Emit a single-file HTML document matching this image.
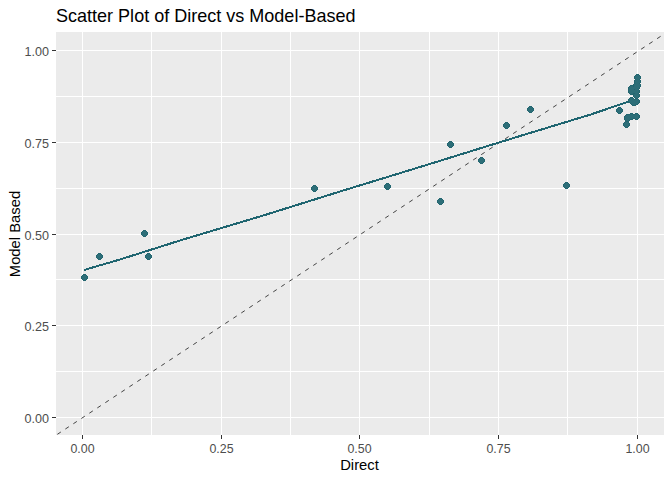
<!DOCTYPE html><html><head><meta charset="utf-8"><style>html,body{margin:0;padding:0;background:#fff;width:672px;height:480px;overflow:hidden}svg{display:block}</style></head><body>
<svg width="672" height="480" viewBox="0 0 672 480" style="font-family:&quot;Liberation Sans&quot;, sans-serif">
<rect x="0" y="0" width="672" height="480" fill="#ffffff"/>
<rect x="56" y="32" width="608" height="403" fill="#ebebeb"/>
<rect x="82" y="32" width="1" height="403" fill="#ffffff"/>
<rect x="151" y="32" width="1" height="403" fill="#ffffff"/>
<rect x="221" y="32" width="1" height="403" fill="#ffffff"/>
<rect x="290" y="32" width="1" height="403" fill="#ffffff"/>
<rect x="359" y="32" width="1" height="403" fill="#ffffff"/>
<rect x="429" y="32" width="1" height="403" fill="#ffffff"/>
<rect x="498" y="32" width="1" height="403" fill="#ffffff"/>
<rect x="567" y="32" width="1" height="403" fill="#ffffff"/>
<rect x="637" y="32" width="1" height="403" fill="#ffffff"/>
<rect x="56" y="417" width="608" height="1" fill="#ffffff"/>
<rect x="56" y="371" width="608" height="1" fill="#ffffff"/>
<rect x="56" y="325" width="608" height="1" fill="#ffffff"/>
<rect x="56" y="279" width="608" height="1" fill="#ffffff"/>
<rect x="56" y="234" width="608" height="1" fill="#ffffff"/>
<rect x="56" y="188" width="608" height="1" fill="#ffffff"/>
<rect x="56" y="142" width="608" height="1" fill="#ffffff"/>
<rect x="56" y="96" width="608" height="1" fill="#ffffff"/>
<rect x="56" y="50" width="608" height="1" fill="#ffffff"/>
<clipPath id="cp"><rect x="56" y="32" width="608" height="403"/></clipPath>
<g clip-path="url(#cp)">
<line x1="56" y1="435.2" x2="664" y2="34.1" stroke="#3a3a3a" stroke-width="0.95" stroke-dasharray="4.2 5.38" stroke-dashoffset="-1.61"/>
<path d="M84,270.1 L92,267.65 L120,259.5 L180,240.5 L260,216.5 L340,191.5 L420,167 L520,136 L590,114.75 L621.5,104 L637.5,98.8" fill="none" stroke="#1f6570" stroke-width="2" stroke-linejoin="round" shape-rendering="crispEdges"/>
<path d="M83 274h3v1h-3zM82 275h5v1h-5zM81 276h7v1h-7zM81 277h7v1h-7zM81 278h7v1h-7zM82 279h5v1h-5zM83 280h3v1h-3zM98 253h3v1h-3zM97 254h5v1h-5zM96 255h7v1h-7zM96 256h7v1h-7zM96 257h7v1h-7zM97 258h5v1h-5zM98 259h3v1h-3zM143 230h3v1h-3zM142 231h5v1h-5zM141 232h7v1h-7zM141 233h7v1h-7zM141 234h7v1h-7zM142 235h5v1h-5zM143 236h3v1h-3zM147 253h3v1h-3zM146 254h5v1h-5zM145 255h7v1h-7zM145 256h7v1h-7zM145 257h7v1h-7zM146 258h5v1h-5zM147 259h3v1h-3zM313 185h3v1h-3zM312 186h5v1h-5zM311 187h7v1h-7zM311 188h7v1h-7zM311 189h7v1h-7zM312 190h5v1h-5zM313 191h3v1h-3zM386 183h3v1h-3zM385 184h5v1h-5zM384 185h7v1h-7zM384 186h7v1h-7zM384 187h7v1h-7zM385 188h5v1h-5zM386 189h3v1h-3zM439 198h3v1h-3zM438 199h5v1h-5zM437 200h7v1h-7zM437 201h7v1h-7zM437 202h7v1h-7zM438 203h5v1h-5zM439 204h3v1h-3zM449 141h3v1h-3zM448 142h5v1h-5zM447 143h7v1h-7zM447 144h7v1h-7zM447 145h7v1h-7zM448 146h5v1h-5zM449 147h3v1h-3zM480 157h3v1h-3zM479 158h5v1h-5zM478 159h7v1h-7zM478 160h7v1h-7zM478 161h7v1h-7zM479 162h5v1h-5zM480 163h3v1h-3zM505 122h3v1h-3zM504 123h5v1h-5zM503 124h7v1h-7zM503 125h7v1h-7zM503 126h7v1h-7zM504 127h5v1h-5zM505 128h3v1h-3zM529 106h3v1h-3zM528 107h5v1h-5zM527 108h7v1h-7zM527 109h7v1h-7zM527 110h7v1h-7zM528 111h5v1h-5zM529 112h3v1h-3zM565 182h3v1h-3zM564 183h5v1h-5zM563 184h7v1h-7zM563 185h7v1h-7zM563 186h7v1h-7zM564 187h5v1h-5zM565 188h3v1h-3zM618 107h3v1h-3zM617 108h5v1h-5zM616 109h7v1h-7zM616 110h7v1h-7zM616 111h7v1h-7zM617 112h5v1h-5zM618 113h3v1h-3zM636 74h3v1h-3zM635 75h5v1h-5zM634 76h7v1h-7zM634 77h7v1h-7zM634 78h7v1h-7zM635 79h5v1h-5zM636 80h3v1h-3zM636 78h3v1h-3zM635 79h5v1h-5zM634 80h7v1h-7zM634 81h7v1h-7zM634 82h7v1h-7zM635 83h5v1h-5zM636 84h3v1h-3zM636 82h3v1h-3zM635 83h5v1h-5zM634 84h7v1h-7zM634 85h7v1h-7zM634 86h7v1h-7zM635 87h5v1h-5zM636 88h3v1h-3zM635 82h3v1h-3zM634 83h5v1h-5zM633 84h7v1h-7zM633 85h7v1h-7zM633 86h7v1h-7zM634 87h5v1h-5zM635 88h3v1h-3zM635 84h3v1h-3zM634 85h5v1h-5zM633 86h7v1h-7zM633 87h7v1h-7zM633 88h7v1h-7zM634 89h5v1h-5zM635 90h3v1h-3zM635 88h3v1h-3zM634 89h5v1h-5zM633 90h7v1h-7zM633 91h7v1h-7zM633 92h7v1h-7zM634 93h5v1h-5zM635 94h3v1h-3zM635 92h3v1h-3zM634 93h5v1h-5zM633 94h7v1h-7zM633 95h7v1h-7zM633 96h7v1h-7zM634 97h5v1h-5zM635 98h3v1h-3zM635 98h3v1h-3zM634 99h5v1h-5zM633 100h7v1h-7zM633 101h7v1h-7zM633 102h7v1h-7zM634 103h5v1h-5zM635 104h3v1h-3zM630 85h3v1h-3zM629 86h5v1h-5zM628 87h7v1h-7zM628 88h7v1h-7zM628 89h7v1h-7zM629 90h5v1h-5zM630 91h3v1h-3zM630 88h3v1h-3zM629 89h5v1h-5zM628 90h7v1h-7zM628 91h7v1h-7zM628 92h7v1h-7zM629 93h5v1h-5zM630 94h3v1h-3zM630 97h3v1h-3zM629 98h5v1h-5zM628 99h7v1h-7zM628 100h7v1h-7zM628 101h7v1h-7zM629 102h5v1h-5zM630 103h3v1h-3zM632 99h3v1h-3zM631 100h5v1h-5zM630 101h7v1h-7zM630 102h7v1h-7zM630 103h7v1h-7zM631 104h5v1h-5zM632 105h3v1h-3zM633 99h3v1h-3zM632 100h5v1h-5zM631 101h7v1h-7zM631 102h7v1h-7zM631 103h7v1h-7zM632 104h5v1h-5zM633 105h3v1h-3zM630 113h3v1h-3zM629 114h5v1h-5zM628 115h7v1h-7zM628 116h7v1h-7zM628 117h7v1h-7zM629 118h5v1h-5zM630 119h3v1h-3zM635 113h3v1h-3zM634 114h5v1h-5zM633 115h7v1h-7zM633 116h7v1h-7zM633 117h7v1h-7zM634 118h5v1h-5zM635 119h3v1h-3zM626 114h3v1h-3zM625 115h5v1h-5zM624 116h7v1h-7zM624 117h7v1h-7zM624 118h7v1h-7zM625 119h5v1h-5zM626 120h3v1h-3zM626 115h3v1h-3zM625 116h5v1h-5zM624 117h7v1h-7zM624 118h7v1h-7zM624 119h7v1h-7zM625 120h5v1h-5zM626 121h3v1h-3zM625 121h3v1h-3zM624 122h5v1h-5zM623 123h7v1h-7zM623 124h7v1h-7zM623 125h7v1h-7zM624 126h5v1h-5zM625 127h3v1h-3z" fill="#236670" shape-rendering="crispEdges"/>
<path d="M83 275h3v1h-3zM82 276h5v1h-5zM82 277h5v1h-5zM82 278h5v1h-5zM83 279h3v1h-3zM98 254h3v1h-3zM97 255h5v1h-5zM97 256h5v1h-5zM97 257h5v1h-5zM98 258h3v1h-3zM143 231h3v1h-3zM142 232h5v1h-5zM142 233h5v1h-5zM142 234h5v1h-5zM143 235h3v1h-3zM147 254h3v1h-3zM146 255h5v1h-5zM146 256h5v1h-5zM146 257h5v1h-5zM147 258h3v1h-3zM313 186h3v1h-3zM312 187h5v1h-5zM312 188h5v1h-5zM312 189h5v1h-5zM313 190h3v1h-3zM386 184h3v1h-3zM385 185h5v1h-5zM385 186h5v1h-5zM385 187h5v1h-5zM386 188h3v1h-3zM439 199h3v1h-3zM438 200h5v1h-5zM438 201h5v1h-5zM438 202h5v1h-5zM439 203h3v1h-3zM449 142h3v1h-3zM448 143h5v1h-5zM448 144h5v1h-5zM448 145h5v1h-5zM449 146h3v1h-3zM480 158h3v1h-3zM479 159h5v1h-5zM479 160h5v1h-5zM479 161h5v1h-5zM480 162h3v1h-3zM505 123h3v1h-3zM504 124h5v1h-5zM504 125h5v1h-5zM504 126h5v1h-5zM505 127h3v1h-3zM529 107h3v1h-3zM528 108h5v1h-5zM528 109h5v1h-5zM528 110h5v1h-5zM529 111h3v1h-3zM565 183h3v1h-3zM564 184h5v1h-5zM564 185h5v1h-5zM564 186h5v1h-5zM565 187h3v1h-3zM618 108h3v1h-3zM617 109h5v1h-5zM617 110h5v1h-5zM617 111h5v1h-5zM618 112h3v1h-3zM636 75h3v1h-3zM635 76h5v1h-5zM635 77h5v1h-5zM635 78h5v1h-5zM636 79h3v1h-3zM636 79h3v1h-3zM635 80h5v1h-5zM635 81h5v1h-5zM635 82h5v1h-5zM636 83h3v1h-3zM636 83h3v1h-3zM635 84h5v1h-5zM635 85h5v1h-5zM635 86h5v1h-5zM636 87h3v1h-3zM635 83h3v1h-3zM634 84h5v1h-5zM634 85h5v1h-5zM634 86h5v1h-5zM635 87h3v1h-3zM635 85h3v1h-3zM634 86h5v1h-5zM634 87h5v1h-5zM634 88h5v1h-5zM635 89h3v1h-3zM635 89h3v1h-3zM634 90h5v1h-5zM634 91h5v1h-5zM634 92h5v1h-5zM635 93h3v1h-3zM635 93h3v1h-3zM634 94h5v1h-5zM634 95h5v1h-5zM634 96h5v1h-5zM635 97h3v1h-3zM635 99h3v1h-3zM634 100h5v1h-5zM634 101h5v1h-5zM634 102h5v1h-5zM635 103h3v1h-3zM630 86h3v1h-3zM629 87h5v1h-5zM629 88h5v1h-5zM629 89h5v1h-5zM630 90h3v1h-3zM630 89h3v1h-3zM629 90h5v1h-5zM629 91h5v1h-5zM629 92h5v1h-5zM630 93h3v1h-3zM630 98h3v1h-3zM629 99h5v1h-5zM629 100h5v1h-5zM629 101h5v1h-5zM630 102h3v1h-3zM632 100h3v1h-3zM631 101h5v1h-5zM631 102h5v1h-5zM631 103h5v1h-5zM632 104h3v1h-3zM633 100h3v1h-3zM632 101h5v1h-5zM632 102h5v1h-5zM632 103h5v1h-5zM633 104h3v1h-3zM630 114h3v1h-3zM629 115h5v1h-5zM629 116h5v1h-5zM629 117h5v1h-5zM630 118h3v1h-3zM635 114h3v1h-3zM634 115h5v1h-5zM634 116h5v1h-5zM634 117h5v1h-5zM635 118h3v1h-3zM626 115h3v1h-3zM625 116h5v1h-5zM625 117h5v1h-5zM625 118h5v1h-5zM626 119h3v1h-3zM626 116h3v1h-3zM625 117h5v1h-5zM625 118h5v1h-5zM625 119h5v1h-5zM626 120h3v1h-3zM625 122h3v1h-3zM624 123h5v1h-5zM624 124h5v1h-5zM624 125h5v1h-5zM625 126h3v1h-3z" fill="#2d6e78" shape-rendering="crispEdges"/>
</g>
<rect x="82" y="435" width="1" height="4" fill="#333333"/>
<text x="82.5" y="453" font-size="12.4" fill="#4d4d4d" text-anchor="middle">0.00</text>
<rect x="221" y="435" width="1" height="4" fill="#333333"/>
<text x="221.5" y="453" font-size="12.4" fill="#4d4d4d" text-anchor="middle">0.25</text>
<rect x="359" y="435" width="1" height="4" fill="#333333"/>
<text x="359.5" y="453" font-size="12.4" fill="#4d4d4d" text-anchor="middle">0.50</text>
<rect x="498" y="435" width="1" height="4" fill="#333333"/>
<text x="498.5" y="453" font-size="12.4" fill="#4d4d4d" text-anchor="middle">0.75</text>
<rect x="637" y="435" width="1" height="4" fill="#333333"/>
<text x="637.5" y="453" font-size="12.4" fill="#4d4d4d" text-anchor="middle">1.00</text>
<rect x="52" y="417" width="4" height="1" fill="#333333"/>
<text x="49" y="423.2" font-size="12.6" fill="#4d4d4d" text-anchor="end">0.00</text>
<rect x="52" y="325" width="4" height="1" fill="#333333"/>
<text x="49" y="331.2" font-size="12.6" fill="#4d4d4d" text-anchor="end">0.25</text>
<rect x="52" y="234" width="4" height="1" fill="#333333"/>
<text x="49" y="240.2" font-size="12.6" fill="#4d4d4d" text-anchor="end">0.50</text>
<rect x="52" y="142" width="4" height="1" fill="#333333"/>
<text x="49" y="148.2" font-size="12.6" fill="#4d4d4d" text-anchor="end">0.75</text>
<rect x="52" y="50" width="4" height="1" fill="#333333"/>
<text x="49" y="56.2" font-size="12.6" fill="#4d4d4d" text-anchor="end">1.00</text>
<text x="56" y="21.6" font-size="17.8" fill="#000" textLength="299.5" lengthAdjust="spacingAndGlyphs">Scatter Plot of Direct vs Model-Based</text>
<text x="359.5" y="469.7" font-size="14.8" fill="#000" text-anchor="middle">Direct</text>
<text x="0" y="0" font-size="14.8" fill="#000" text-anchor="middle" transform="translate(19.8,234) rotate(-90)">Model Based</text>
</svg></body></html>
